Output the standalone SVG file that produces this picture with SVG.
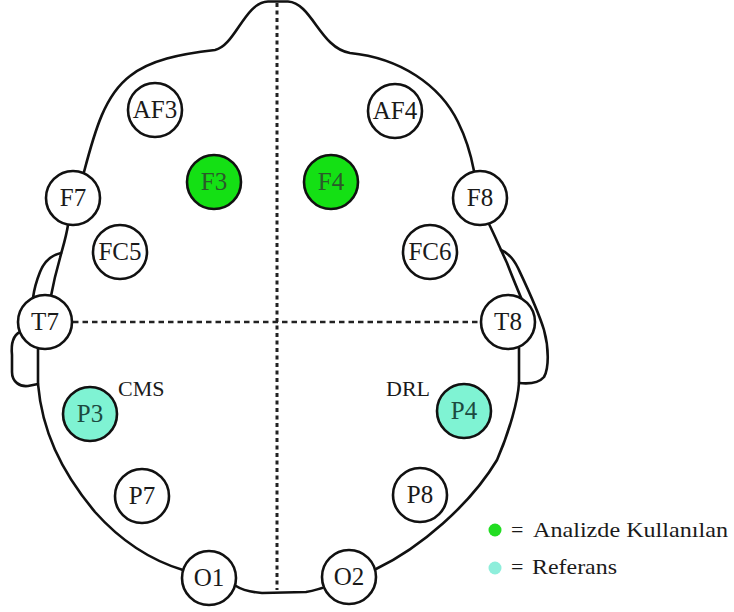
<svg xmlns="http://www.w3.org/2000/svg" width="734" height="612" viewBox="0 0 734 612">
  <style>
    .outline { fill: none; stroke: #111; stroke-width: 2.6; stroke-linecap: round; stroke-linejoin: round; }
    .axis-v { fill: none; stroke: #222; stroke-width: 3; stroke-dasharray: 4 3.5; }
    .axis-h { fill: none; stroke: #222; stroke-width: 2.6; stroke-dasharray: 5.5 4; }
    .node circle { stroke: #111; stroke-width: 2.6; fill: #fff; }
    .node.used circle { fill: #14e014; }
    .node.ref circle { fill: #7ff3d3; }
    .node text { font-size: 25px; fill: #1a1a1a; text-anchor: middle; }
    .node.used text { fill: #2a5a2a; }
    .node.ref text { fill: #1c4a40; }
    .tag { font-size: 22px; fill: #1a1a1a; }
    .legend { font-size: 22px; fill: #1a1a1a; }
  </style>

  <rect width="734" height="612" fill="#fff"/>

  <!-- head outline, ears and midlines -->
  <g id="connectors">
    <!-- forehead, nose bump and right temple -->
    <path class="outline" d="M 84,172 C 95,130 105,95 130,76 C 150,60 180,54 215,50 C 235,46 245,2 268,1.5 L 288,1.5 C 312,3 320,48 350,53 C 400,58 440,85 458,122 C 467,140 471,155 474,171"/>
    <!-- left side between F7 and T7 -->
    <path class="outline" d="M 68,225 C 66,238 62,250 60,258 C 56,272 53,285 51,296"/>
    <!-- left ear, upper flap -->
    <path class="outline" d="M 61,253 C 52,255 44,262 40,272 C 36,282 34,290 33,298"/>
    <!-- left ear, lower lobe -->
    <path class="outline" d="M 20,332 C 12,336 11,345 12,355 L 12,372 C 12,382 20,387 28,386 L 38,384"/>
    <!-- left side down to O1 -->
    <path class="outline" d="M 38,348 L 38,384 C 42,430 60,470 95,512 C 120,540 150,560 183,570"/>
    <!-- back of head between O1 and O2 -->
    <path class="outline" d="M 236,586 C 242,590 250,592 262,593 L 306,592 C 314,591 318,589 322,588"/>
    <!-- right side up from O2 to T8 -->
    <path class="outline" d="M 376,569 C 420,548 470,505 497,460 C 510,430 518,400 519,383 L 519,348"/>
    <!-- right side between F8 and T8 -->
    <path class="outline" d="M 489,224 C 494,234 500,248 507,263 C 512,276 517,288 522,300"/>
    <!-- right ear -->
    <path class="outline" d="M 501,250 C 506,252 512,256 518,268 C 526,285 538,310 544,330 C 549,348 549,368 544,377 C 538,384 528,384 519,383"/>

    <!-- midlines -->
    <line class="axis-v" x1="277" y1="3" x2="277" y2="590"/>
    <line class="axis-h" x1="73" y1="322" x2="481" y2="322"/>
  </g>

  <!-- electrodes -->
  <g font-family="Liberation Serif, Times New Roman, DejaVu Serif, serif">
  <g id="AF3" class="node"><circle cx="155" cy="110" r="27"/><text x="155" y="118">AF3</text></g>
  <g id="AF4" class="node"><circle cx="395" cy="111" r="27"/><text x="395" y="119">AF4</text></g>
  <g id="F3" class="node used"><circle cx="214" cy="182" r="27"/><text x="214" y="190">F3</text></g>
  <g id="F4" class="node used"><circle cx="331" cy="182" r="27"/><text x="331" y="190">F4</text></g>
  <g id="F7" class="node"><circle cx="73" cy="198" r="27"/><text x="73" y="206">F7</text></g>
  <g id="F8" class="node"><circle cx="480" cy="198" r="27"/><text x="480" y="206">F8</text></g>
  <g id="FC5" class="node"><circle cx="120" cy="252" r="27"/><text x="120" y="260">FC5</text></g>
  <g id="FC6" class="node"><circle cx="430" cy="252" r="27"/><text x="430" y="260">FC6</text></g>
  <g id="T7" class="node"><circle cx="45" cy="322" r="27"/><text x="45" y="330">T7</text></g>
  <g id="T8" class="node"><circle cx="508" cy="322" r="27"/><text x="508" y="330">T8</text></g>
  <g id="P3" class="node ref"><circle cx="90" cy="414" r="27"/><text x="90" y="422">P3</text></g>
  <g id="P4" class="node ref"><circle cx="464" cy="411" r="27"/><text x="464" y="419">P4</text></g>
  <g id="P7" class="node"><circle cx="142" cy="496" r="27"/><text x="142" y="504">P7</text></g>
  <g id="P8" class="node"><circle cx="420" cy="495" r="27"/><text x="420" y="503">P8</text></g>
  <g id="O1" class="node"><circle cx="209" cy="578" r="27"/><text x="209" y="586">O1</text></g>
  <g id="O2" class="node"><circle cx="349" cy="577" r="27"/><text x="349" y="585">O2</text></g>

  <!-- reference electrode tags -->
  <text class="tag" x="118" y="396">CMS</text>
  <text class="tag" x="386" y="396">DRL</text>

  <!-- legend -->
  <g id="legend">
    <circle cx="495" cy="530" r="6.5" fill="#22dd22"/>
    <text class="legend" x="511" y="537">=</text>
    <text class="legend" x="533" y="537" textLength="195" lengthAdjust="spacingAndGlyphs">Analizde Kullanılan</text>
    <circle cx="495" cy="568" r="6.5" fill="#8eeedb"/>
    <text class="legend" x="511" y="574">=</text>
    <text class="legend" x="532" y="574" textLength="85" lengthAdjust="spacingAndGlyphs">Referans</text>
  </g>
  </g>
</svg>
